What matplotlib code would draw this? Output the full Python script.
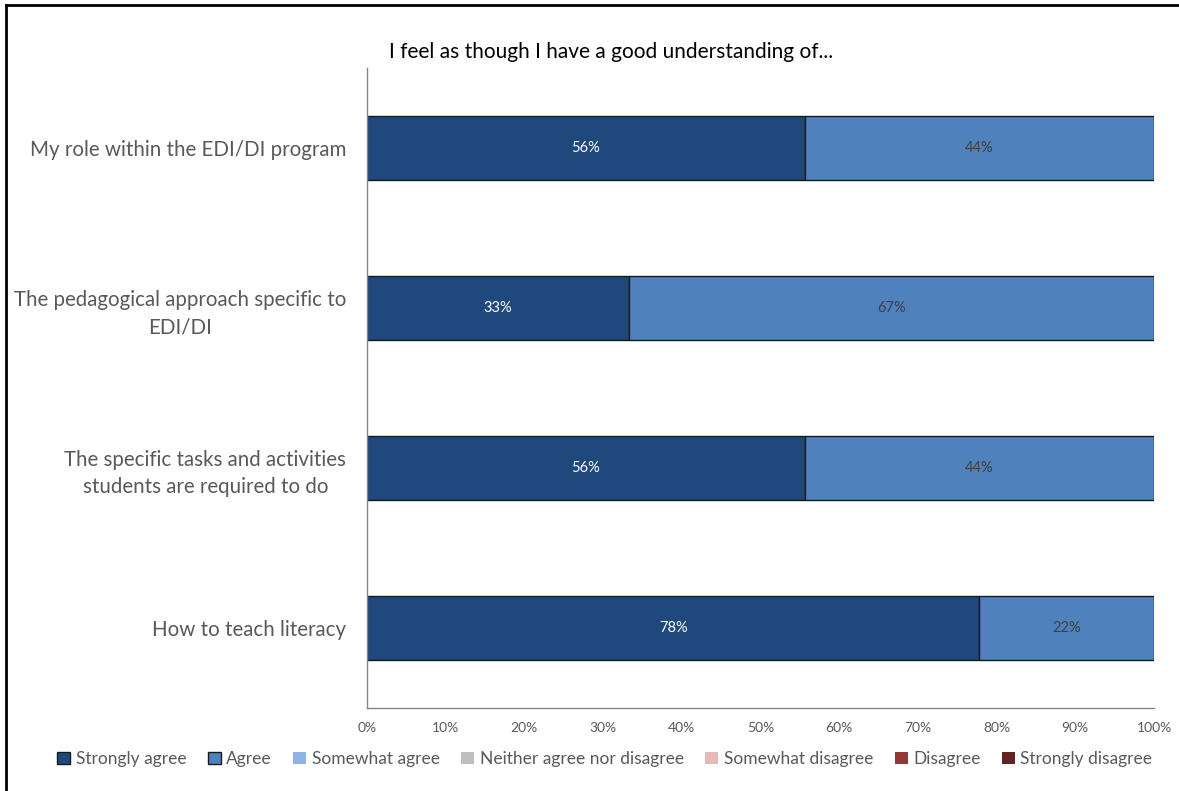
import matplotlib.pyplot as plt
from matplotlib.lines import Line2D

# Survey items (top to bottom) and response shares in percent
ITEMS = [
    'My role within the EDI/DI program',
    'The pedagogical approach specific to\nEDI/DI',
    'The specific tasks and activities\nstudents are required to do',
    'How to teach literacy',
]
RESPONSES = ['Strongly agree', 'Agree', 'Somewhat agree', 'Neither agree nor disagree',
             'Somewhat disagree', 'Disagree', 'Strongly disagree']
COLORS = ['#1F497D', '#4F81BD', '#8DB4E2', '#BFBFBF', '#E6B9B8', '#953735', '#632523']

strongly_agree = [55.6, 33.3, 55.6, 77.8]
agree = [44.4, 66.7, 44.4, 22.2]
somewhat_agree = [0, 0, 0, 0]
neither = [0, 0, 0, 0]
somewhat_disagree = [0, 0, 0, 0]
disagree = [0, 0, 0, 0]
strongly_disagree = [0, 0, 0, 0]
SERIES = [strongly_agree, agree, somewhat_agree, neither,
          somewhat_disagree, disagree, strongly_disagree]

XTICKS = list(range(0, 101, 10))
TEXT_GREY = '#595959'

plt.rcParams['font.family'] = ['Lato', 'DejaVu Sans']

fig = plt.figure(figsize=(11.79, 7.91), dpi=100)
ax = fig.add_axes([0.3113, 0.105, 0.6675, 0.809])

ypos = list(range(len(ITEMS)))
left = [0.0] * len(ITEMS)
for name, vals, color in zip(RESPONSES, SERIES, COLORS):
    has_data = any(v > 0 for v in vals)
    bars = ax.barh(ypos, vals, left=left, height=0.4, color=color,
                   edgecolor='#1a1a1a' if has_data else 'none', linewidth=1.0,
                   label=name)
    for y, v, l in zip(ypos, vals, left):
        if v > 0:
            txt_color = 'white' if color == '#1F497D' else '#404040'
            ax.text(l + v / 2, y, f'{v:.0f}%', ha='center', va='center',
                    fontsize=10.5, color=txt_color)
    left = [a + b for a, b in zip(left, vals)]

ax.set_ylim(len(ITEMS) - 0.5, -0.5)
ax.set_xlim(0, 100)
ax.set_xticks(XTICKS)
ax.set_xticklabels([f'{t}%' for t in XTICKS], fontsize=10, color=TEXT_GREY)
ax.set_yticks(ypos)
ax.set_yticklabels(ITEMS, fontsize=14.8, color=TEXT_GREY)
for t in ax.get_yticklabels():
    t.set_multialignment('center')
    t.set_linespacing(1.45)
ax.tick_params(axis='y', length=0, pad=15)
ax.tick_params(axis='x', length=0, pad=10)

for side in ['top', 'right']:
    ax.spines[side].set_visible(False)
for side in ['left', 'bottom']:
    ax.spines[side].set_color('#868686')
    ax.spines[side].set_linewidth(1.0)

fig.text(0.518, 1 - 52 / 791, 'I feel as though I have a good understanding of...',
         ha='center', va='center', fontsize=15, color='black')

leg = fig.legend(loc='center', bbox_to_anchor=(0.513, 1 - 759 / 791), ncol=7,
                 frameon=False, fontsize=12.5, handlelength=0.75, handleheight=0.75,
                 handletextpad=0.3, columnspacing=1.25, labelcolor=TEXT_GREY)

# outer chart frame (top and left edges)
fig.add_artist(Line2D([6 / 1179, 1.0], [1 - 5 / 791, 1 - 5 / 791], color='black',
                      linewidth=2, transform=fig.transFigure))
fig.add_artist(Line2D([6 / 1179, 6 / 1179], [0.0, 1 - 5 / 791], color='black',
                      linewidth=2, transform=fig.transFigure))

fig.savefig('out.png', dpi=100)
